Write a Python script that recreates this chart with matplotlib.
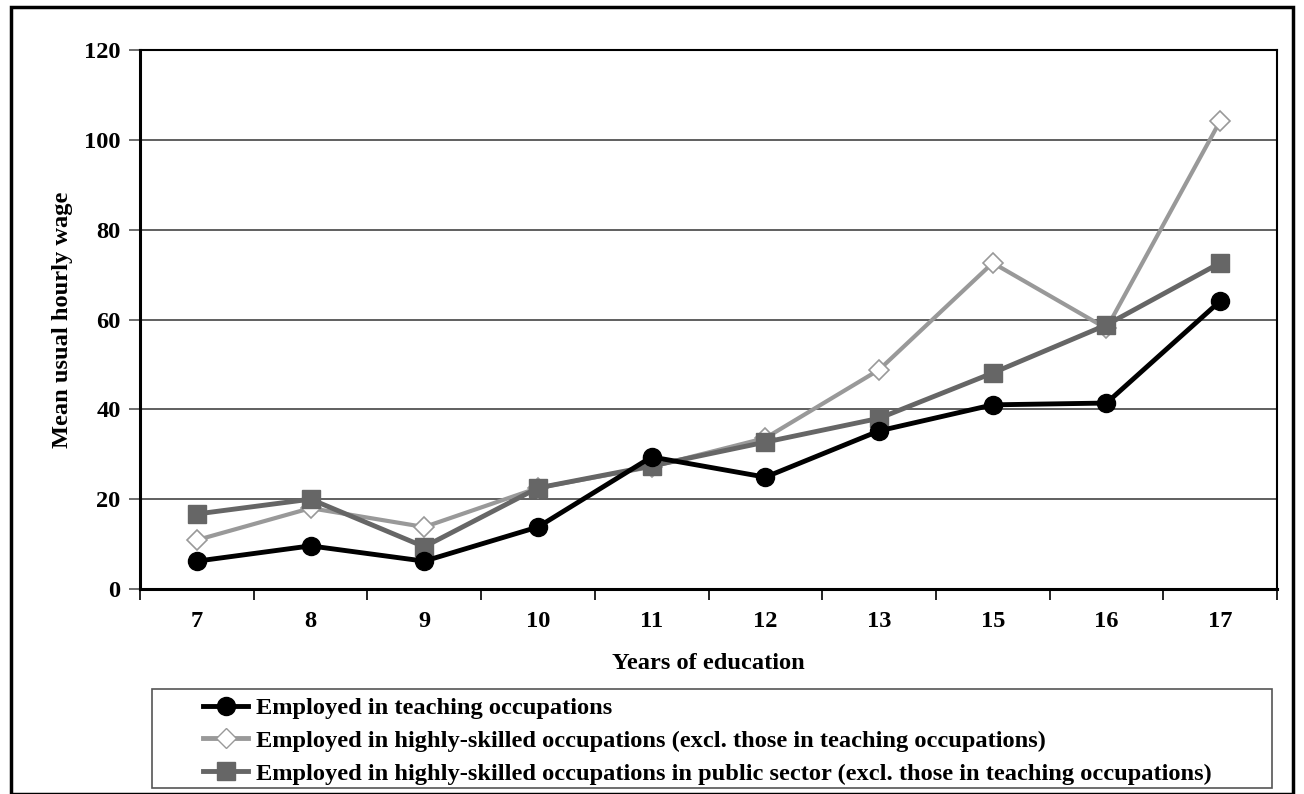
import matplotlib
matplotlib.use("Agg")
import matplotlib.pyplot as plt
from matplotlib.patches import Rectangle
from matplotlib.lines import Line2D

categories = ["7", "8", "9", "10", "11", "12", "13", "15", "16", "17"]
teaching = [6.2, 9.6, 6.2, 13.8, 29.4, 24.9, 35.2, 41.0, 41.4, 64.1]
skilled = [10.9, 18.0, 13.8, 22.5, 27.2, 33.6, 48.8, 72.6, 58.0, 104.2]
public = [16.7, 20.0, 9.4, 22.5, 27.4, 32.7, 38.0, 48.1, 58.8, 72.6]
labels = [
    "Employed in teaching occupations",
    "Employed in highly-skilled occupations (excl. those in teaching occupations)",
    "Employed in highly-skilled occupations in public sector (excl. those in teaching occupations)",
]
yticks = [0, 20, 40, 60, 80, 100, 120]

plt.rcParams['font.family'] = ['Liberation Serif', 'DejaVu Serif']
plt.rcParams['font.weight'] = 'bold'

FS = 17.6
W, H = 1304, 794
fig = plt.figure(figsize=(W / 100, H / 100), dpi=100)
ax = fig.add_axes([140 / W, 1 - 589 / H, (1277 - 140) / W, (589 - 50) / H])

x = list(range(len(categories)))
ax.plot(x, skilled, color="#999999", lw=3, marker="D", ms=10, mfc="white",
        mec="#999999", mew=1.2, zorder=3)
ax.plot(x, public, color="#666666", lw=3.5, marker="s", ms=13, mfc="#666666",
        mec="#666666", zorder=4)
ax.plot(x, teaching, color="black", lw=3.5, marker="o", ms=13, mfc="black",
        mec="black", zorder=5)

ax.set_xlim(-0.5, len(categories) - 0.5)
ax.set_ylim(0, 120)
ax.set_yticks(yticks)
ax.set_yticklabels([str(v) for v in yticks], fontsize=FS, fontweight="bold")
ax.set_xticks(x)
ax.set_xticklabels(categories, fontsize=FS, fontweight="bold")
ax.tick_params(axis="x", which="major", length=0, pad=16)
ax.set_xticks([i - 0.5 for i in range(len(categories) + 1)], minor=True)
ax.tick_params(axis="x", which="minor", length=8, width=1.2, direction="out", color="black")
ax.tick_params(axis="y", length=8, width=1.2, color="#555555", pad=6)
ax.yaxis.grid(True, color="#444444", lw=1.2)
ax.set_axisbelow(True)
for s in ["left", "bottom"]:
    ax.spines[s].set_linewidth(2.2)
for s in ["top", "right"]:
    ax.spines[s].set_linewidth(1.5)
ax.set_xlabel("Years of education", fontsize=FS, fontweight="bold", labelpad=15)
ax.set_ylabel("Mean usual hourly wage", fontsize=FS, fontweight="bold", labelpad=8)

handles = [
    Line2D([], [], color="black", lw=3.5, marker="o", ms=13),
    Line2D([], [], color="#999999", lw=3.5, marker="D", ms=10, mfc="white", mec="#999999"),
    Line2D([], [], color="#666666", lw=3.5, marker="s", ms=13),
]
leg = fig.legend(handles, labels, loc="upper left",
                 bbox_to_anchor=(203 / W, 1 - 697 / H),
                 frameon=False, prop={"weight": "bold", "size": FS},
                 handlelength=1.85, borderpad=0, labelspacing=0.44,
                 handletextpad=0.33, borderaxespad=0)

fig.patches.append(Rectangle((152 / W, 1 - 788 / H), (1272 - 152) / W, (788 - 689) / H,
                             transform=fig.transFigure, fill=False,
                             edgecolor="#555555", lw=1.2))
fig.patches.append(Rectangle((11 / W, 0), (1293 - 11) / W, 1 - 7 / H,
                             transform=fig.transFigure, fill=False,
                             edgecolor="black", lw=2.5))

fig.savefig("out.png", dpi=100)
